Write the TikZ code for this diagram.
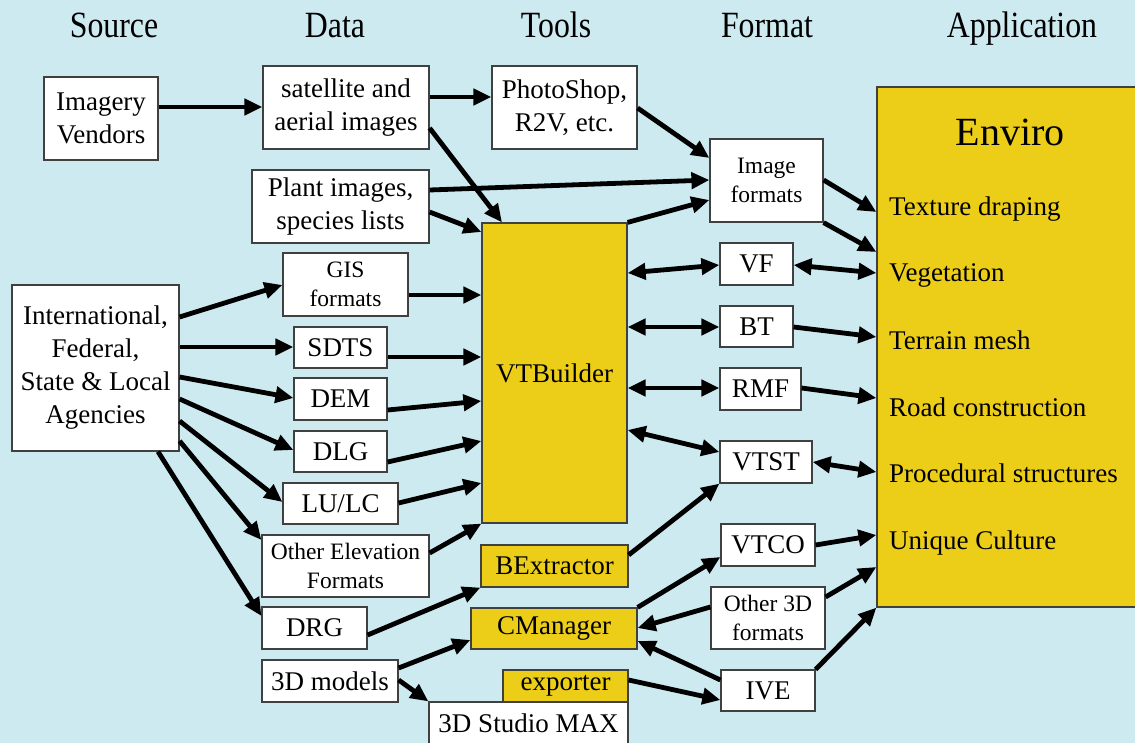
\documentclass[tikz,border=0pt]{standalone}
\usepackage{fontspec}
\setmainfont{Liberation Serif}
\usetikzlibrary{arrows.meta}

\definecolor{skyback}{RGB}{205,234,240}
\definecolor{toolgold}{RGB}{236,206,24}
\newcommand{\colhead}[1]{\scalebox{0.86}[1]{#1}}

\tikzset{
  box/.style={draw=black!75, line width=1.2pt, fill=white, inner sep=0pt, align=center,
    font=\fontsize{27}{33}\selectfont},
  smallbox/.style={box, font=\fontsize{23.5}{29}\selectfont},
  goldbox/.style={box, fill=toolgold},
  head/.style={anchor=base, inner sep=0pt, font=\fontsize{37}{40}\selectfont},
  item/.style={anchor=base west, inner sep=0pt, font=\fontsize{27}{33}\selectfont},
  feed/.style={line width=4.8pt, -{Triangle[length=18pt,width=16pt]}},
  both/.style={line width=4.8pt, {Triangle[length=18pt,width=16pt]}-{Triangle[length=18pt,width=16pt]}},
}

\begin{document}
\begin{tikzpicture}[x=1pt,y=-1pt]
\fill[skyback] (0,0) rectangle (1135,743);
\useasboundingbox (0,0) rectangle (1135,743);

% column heads
\node[head] (hsource) at (114,38) {\colhead{Source}};
\node[head] (hdata) at (335,38) {\colhead{Data}};
\node[head] (htools) at (556,38) {\colhead{Tools}};
\node[head] (hformat) at (767,38) {\colhead{Format}};
\node[head] (happ) at (1022,38) {\colhead{Application}};

% sources
\node[box, minimum width=114pt, minimum height=83pt] (vendor) at (101,118.5) {Imagery\\Vendors};
\node[box, minimum width=167pt, minimum height=166pt] (intl) at (95.5,368) {International,\\Federal,\\State \& Local\\Agencies};

% data
\node[box, minimum width=166pt, minimum height=83pt] (sat) at (346,107.5) {satellite and\\aerial images};
\node[box, minimum width=177pt, minimum height=73pt] (plant) at (340.5,206.5) {Plant images,\\species lists};
\node[smallbox, minimum width=125pt, minimum height=63pt] (gis) at (345.5,284.5) {GIS\\formats};
\node[box, minimum width=93pt, minimum height=41pt] (sdts) at (340.5,347.5) {SDTS};
\node[box, minimum width=93pt, minimum height=42pt] (dem) at (340.5,399) {DEM};
\node[box, minimum width=93pt, minimum height=41pt] (dlg) at (340.5,451.5) {DLG};
\node[box, minimum width=115pt, minimum height=41pt] (lulc) at (340.5,503.5) {LU/LC};
\node[smallbox, minimum width=167pt, minimum height=62pt] (oelev) at (345.5,566) {Other Elevation\\Formats};
\node[box, minimum width=105pt, minimum height=42pt] (drg) at (314.5,628) {DRG};
\node[box, minimum width=136pt, minimum height=42pt] (models) at (330,681) {3D models};

% tools
\node[box, minimum width=145pt, minimum height=83pt] (photo) at (564.5,107.5) {PhotoShop,\\R2V, etc.};
\node[goldbox, minimum width=145pt, minimum height=300pt] (vtb) at (554.5,373) {VTBuilder};
\node[goldbox, minimum width=147pt, minimum height=42pt] (bext) at (554.5,566) {BExtractor};
\node[goldbox, minimum width=166pt, minimum height=41pt] (cman) at (554,628.5) {CManager};
\node[goldbox, minimum width=125pt, minimum height=32pt] (expo) at (565.5,686) {exporter};
\node[box, minimum width=199pt, minimum height=43pt] (studio) at (528.5,723.5) {3D Studio MAX};

% formats
\node[smallbox, minimum width=113pt, minimum height=83pt] (imgfmt) at (766.5,180.5) {Image\\formats};
\node[box, minimum width=73pt, minimum height=42pt] (vf) at (756.5,264) {VF};
\node[box, minimum width=73pt, minimum height=41pt] (bt) at (756.5,326.5) {BT};
\node[box, minimum width=81pt, minimum height=42pt] (rmf) at (760.5,389) {RMF};
\node[box, minimum width=92pt, minimum height=42pt] (vtst) at (766,462) {VTST};
\node[box, minimum width=94pt, minimum height=42pt] (vtco) at (768,545) {VTCO};
\node[smallbox, minimum width=114pt, minimum height=62pt] (o3d) at (768,618) {Other 3D\\formats};
\node[box, minimum width=94pt, minimum height=41pt] (ive) at (768,690.5) {IVE};

% application
\node[goldbox, minimum width=263pt, minimum height=520pt] (env) at (1008.5,347) {};
\node[anchor=base, inner sep=0pt, font=\fontsize{40}{44}\selectfont] (envtitle) at (1010,146) {Enviro};
\node[item] (texture) at (889,216) {Texture draping};
\node[item] (veg) at (889,282) {Vegetation};
\node[item] (terrain) at (889,349) {Terrain mesh};
\node[item] (road) at (889,416) {Road construction};
\node[item] (proc) at (889,482) {Procedural structures};
\node[item] (culture) at (889,549) {Unique Culture};

% image path
\draw[feed] (vendor.east |- 0,107) -- (sat.west |- 0,107);
\draw[feed] (sat.east |- 0,97) -- (photo.west |- 0,97);
\draw[feed] (sat.east |- 0,128) -- (vtb.north -| 502,0);
\draw[feed] (photo.east |- 0,108) -- (imgfmt.west |- 0,158);
\draw[feed] (plant.east |- 0,190) -- (imgfmt.west |- 0,180);
\draw[feed] (plant.east |- 0,212) -- (vtb.west |- 0,232);
\draw[feed] (vtb.north east) -- (imgfmt.west |- 0,200);
\draw[feed] (imgfmt.east |- 0,180) -- (env.west |- 0,212);
\draw[feed] (imgfmt.south east) -- (env.west |- 0,252);

% agencies to data
\draw[feed] (intl.east |- 0,317) -- (gis.west |- 0,285);
\draw[feed] (intl.east |- 0,347) -- (sdts.west |- 0,347);
\draw[feed] (intl.east |- 0,377) -- (dem.west |- 0,398);
\draw[feed] (intl.east |- 0,399) -- (dlg.west |- 0,450);
\draw[feed] (intl.east |- 0,421) -- (lulc.west |- 0,502);
\draw[feed] (intl.east |- 0,441) -- (oelev.west |- 0,540);
\draw[feed] (intl.south -| 158,0) -- (drg.west |- 0,616);

% data to tools
\draw[feed] (gis.east |- 0,295) -- (vtb.west |- 0,295);
\draw[feed] (sdts.east |- 0,357) -- (vtb.west |- 0,357);
\draw[feed] (dem.east |- 0,410) -- (vtb.west |- 0,401);
\draw[feed] (dlg.east |- 0,462) -- (vtb.west |- 0,441);
\draw[feed] (lulc.east |- 0,503) -- (vtb.west |- 0,483);
\draw[feed] (oelev.east |- 0,553) -- (vtb.south west);
\draw[feed] (drg.east |- 0,635) -- (bext.south west);
\draw[feed] (models.east |- 0,668) -- (cman.west |- 0,640);
\draw[feed] (models.east |- 0,680) -- (studio.north west);

% tools to formats to Enviro
\draw[both] (vtb.east |- 0,273) -- (vf.west |- 0,265);
\draw[both] (vf.east |- 0,265) -- (env.west |- 0,273);
\draw[both] (vtb.east |- 0,327) -- (bt.west |- 0,327);
\draw[feed] (bt.east |- 0,327) -- (env.west |- 0,337);
\draw[both] (vtb.east |- 0,388) -- (rmf.west |- 0,388);
\draw[feed] (rmf.east |- 0,388) -- (env.west |- 0,398);
\draw[both] (vtb.east |- 0,430) -- (vtst.west |- 0,452);
\draw[both] (vtst.east |- 0,462) -- (env.west |- 0,472);
\draw[feed] (bext.east |- 0,555) -- (vtst.south west);
\draw[feed] (cman.north east) -- (vtco.west |- 0,557);
\draw[feed] (vtco.east |- 0,545) -- (env.west |- 0,535);
\draw[feed] (o3d.west |- 0,607) -- (cman.east |- 0,628);
\draw[feed] (o3d.east |- 0,597) -- (env.west |- 0,567);
\draw[feed] (ive.west |- 0,680) -- (cman.east |- 0,641);
\draw[feed] (ive.north east) -- (env.south west);
\draw[feed] (expo.east |- 0,680) -- (ive.west |- 0,700);
\end{tikzpicture}
\end{document}
